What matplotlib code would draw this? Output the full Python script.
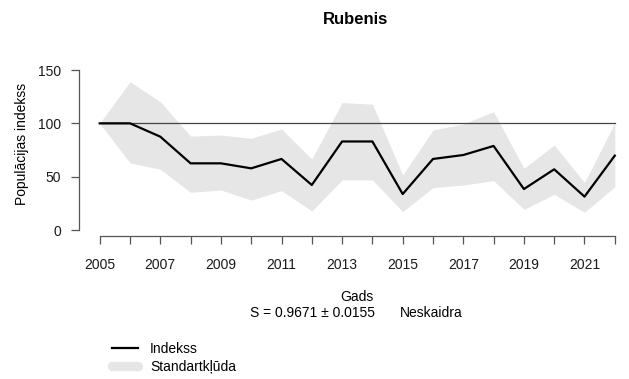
import numpy as np
import matplotlib
matplotlib.use("Agg")
import matplotlib.pyplot as plt
from matplotlib.lines import Line2D

plt.rcParams['font.family'] = ['Liberation Sans', 'DejaVu Sans']

# Rubeņa populācijas indekss (2005 = 100) un standartkļūdas robežas
gadi = np.arange(2005, 2023)
indekss = [100, 100, 87.5, 62.5, 62.5, 57.8, 66.6, 42.2, 83.0, 83.0,
           33.7, 66.6, 70.3, 78.8, 38.4, 56.9, 31.3, 69.7]
augsa = [100, 139, 120.3, 88, 89, 86, 94.7, 66.6, 119.4, 118,
         51.6, 93.8, 99.4, 111, 57.8, 79.7, 44.4, 100.6]
apaksa = [100, 63, 56.9, 35.3, 37.5, 28, 36.9, 17.8, 46.9, 47,
          17.2, 39.7, 42.2, 46.3, 19.4, 33.4, 16.6, 40.6]
y_ticks = [0, 50, 100, 150]
x_labels = [str(g) if (g - 2005) % 2 == 0 else '' for g in gadi]

W, H = 629, 379
fig = plt.figure(figsize=(W / 100, H / 100), dpi=100)

# zīmēšanas laukums pikseļos (4% rezerve kā R)
left, right, bottom, top = 79.1, 635.4, 236.4, 63.6
ax = fig.add_axes([left / W, 1 - bottom / H, (right - left) / W, (bottom - top) / H])

ax.fill_between(gadi, apaksa, augsa, color='#e6e6e6', lw=0)
ax.plot([gadi[0], gadi[-1]], [100, 100], color='#444444', lw=0.9)
ax.plot(gadi, indekss, color='black', lw=1.6)

ax.set_xlim(2004.32, 2022.68)
ax.set_ylim(-6, 156)

for s in ['top', 'right']:
    ax.spines[s].set_visible(False)
for s in ['left', 'bottom']:
    ax.spines[s].set_color('#555555')
    ax.spines[s].set_linewidth(0.9)
ax.spines['left'].set_bounds(0, 150)
ax.spines['bottom'].set_bounds(2005, 2022)

ax.set_xticks(gadi)
ax.set_xticklabels(x_labels)
ax.set_yticks(y_ticks)
ax.tick_params(axis='both', colors='#555555', labelcolor='#1a1a1a',
               length=6, width=0.9, labelsize=10)
ax.tick_params(axis='x', pad=9.5)
ax.tick_params(axis='y', pad=7)

fig.text(356 / W, 1 - 19 / H, 'Rubenis', ha='center', va='center',
         fontsize=12, fontweight='bold')
fig.text(21.7 / W, 1 - 144 / H, 'Populācijas indekss', rotation=90,
         ha='center', va='center', fontsize=10)
fig.text(357 / W, 1 - 297 / H, 'Gads', ha='center', va='center', fontsize=10)
fig.text(312 / W, 1 - 313 / H, 'S = 0.9671 ± 0.0155', ha='center', va='center',
         fontsize=10)
fig.text(400 / W, 1 - 313 / H, 'Neskaidra', ha='left', va='center', fontsize=10)

handles = [Line2D([], [], color='black', lw=1.6),
           Line2D([], [], color='#e6e6e6', lw=6.8, solid_capstyle='round')]
fig.legend(handles, ['Indekss', 'Standartkļūda'], loc='upper left',
           bbox_to_anchor=(111.7 / W, 1 - 342 / H), frameon=False, fontsize=10,
           handlelength=1.92, handletextpad=0.84, labelspacing=0.31,
           borderaxespad=0, borderpad=0)

fig.savefig('out.png', dpi=100)
